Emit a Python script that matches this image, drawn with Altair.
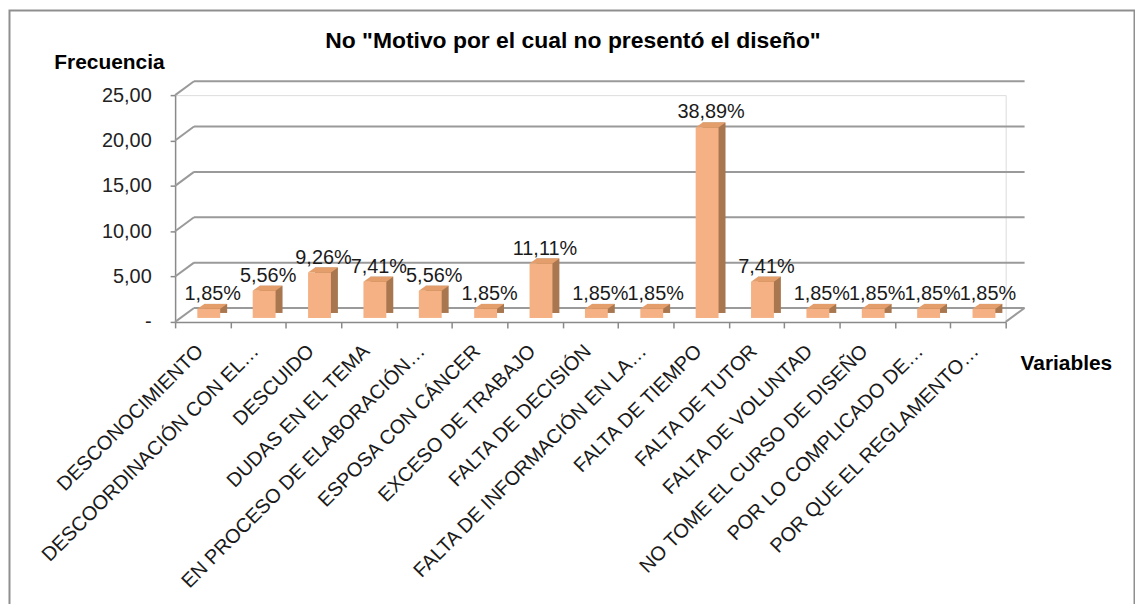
import altair as alt
import pandas as pd

categories = [
    "DESCONOCIMIENTO", "DESCOORDINACIÓN CON EL…", "DESCUIDO", "DUDAS EN EL TEMA",
    "EN PROCESO DE ELABORACIÓN…", "ESPOSA CON CÁNCER", "EXCESO DE TRABAJO",
    "FALTA DE DECISIÓN", "FALTA DE INFORMACIÓN EN LA…", "FALTA DE TIEMPO",
    "FALTA DE TUTOR", "FALTA DE VOLUNTAD", "NO TOME EL CURSO DE DISEÑO",
    "POR LO COMPLICADO DE…", "POR QUE EL REGLAMENTO…",
]
frecuencia = [1, 3, 5, 4, 3, 1, 6, 1, 1, 21, 4, 1, 1, 1, 1]
porcentaje = ["1,85%", "5,56%", "9,26%", "7,41%", "5,56%", "1,85%", "11,11%", "1,85%",
              "1,85%", "38,89%", "7,41%", "1,85%", "1,85%", "1,85%", "1,85%"]
y_ticks = [0, 5, 10, 15, 20, 25]

title_text = 'No "Motivo por el cual no presentó el diseño"'
y_title = "Frecuencia"
x_title = "Variables"

W, H = 835, 228
DX, DY = 19, -14
FONT = "Liberation Sans"
GRID = "#9a9a9a"

df = pd.DataFrame({"cat": categories, "val": frecuencia, "pct": porcentaje})
ticks_df = pd.DataFrame({"yv": y_ticks})
zero_df = pd.DataFrame({"yv": [y_ticks[0]]})
one = pd.DataFrame({"a": [0]})

yscale = alt.Scale(domain=[0, 25], nice=False)
xenc = alt.X(
    "cat:N", sort=categories,
    scale=alt.Scale(paddingInner=0, paddingOuter=0),
    axis=alt.Axis(
        title=None, labelAngle=-45, labelAlign="right", labelBaseline="middle",
        labelFontSize=20, labelFont=FONT, labelColor="#1a1a1a", labelPadding=20,
        labelOffset=-3, labelLimit=0, labelOverlap=False, tickBand="extent",
        tickSize=6, tickColor="#8a8a8a", tickWidth=1.5,
        domainColor="#8a8a8a", domainWidth=1.5,
    ),
)


def yaxis():
    return alt.Axis(
        title=None, values=y_ticks, grid=False,
        labelExpr="datum.value == 0 ? '-\u00a0\u00a0' : replace(format(datum.value, '.2f'), '.', ',')",
        labelFontSize=20, labelFont=FONT, labelColor="#222222", labelPadding=19,
        tickSize=5, tickColor="#8a8a8a", tickWidth=1.5,
        domainColor="#8a8a8a", domainWidth=1.5,
    )


yenc = alt.Y("val:Q", scale=yscale, axis=yaxis())
yv = alt.Y("yv:Q", scale=yscale, axis=yaxis())

border = alt.Chart(one).mark_rect(fillOpacity=0, stroke="#8f8f8f", strokeWidth=2).encode(
    x=alt.value(-166.5), x2=alt.value(964.5), y=alt.value(-85), y2=alt.value(620)
)

grid = alt.Chart(ticks_df).mark_rule(color=GRID, strokeWidth=2, yOffset=DY).encode(
    x=alt.value(DX), x2=alt.value(W + DX), y=yv
)
diag = alt.Chart(ticks_df).mark_rule(color=GRID, strokeWidth=2, y2Offset=DY).encode(
    x=alt.value(0), x2=alt.value(DX), y=yv, y2="yv:Q"
)
diag_r = alt.Chart(zero_df).mark_rule(color=GRID, strokeWidth=2, y2Offset=DY).encode(
    x=alt.value(W), x2=alt.value(W + DX), y=yv, y2="yv:Q"
)

side = alt.Chart(df).mark_bar(width=23, xOffset=13, yOffset=-9, y2Offset=-9,
                              color="#A8774F").encode(x=xenc, y=yenc)
front = alt.Chart(df).mark_bar(width=23, xOffset=6, yOffset=-4, y2Offset=-4,
                               color="#F5B183").encode(x=xenc, y=yenc)
top = alt.Chart(df).mark_point(
    shape="M-11.5,0L11.5,0L18.5,-5L-4.5,-5Z", size=4, filled=True, opacity=1,
    fill="#E49E6B", strokeWidth=0, xOffset=6, yOffset=-4,
).encode(x=xenc, y=yenc)
labels = alt.Chart(df).mark_text(
    fontSize=20, font=FONT, baseline="alphabetic", align="center",
    xOffset=10, yOffset=-13, color="#1a1a1a",
).encode(x=xenc, y=yenc, text="pct:N")


def txt(t, x, y, size):
    return alt.Chart(one).mark_text(
        text=t, fontSize=size, font=FONT, fontWeight="bold", align="center",
        baseline="alphabetic", color="#000000",
    ).encode(x=alt.value(x), y=alt.value(y))


chart = alt.layer(
    border, grid, diag, diag_r, side, front, top, labels,
    txt(title_text, 400, -47, 23),
    txt(y_title, -66, -26, 21),
    txt(x_title, 896, 276, 21),
).properties(
    width=W, height=H,
    padding={"left": 168, "top": 86, "right": 130, "bottom": 282},
    autosize=alt.AutoSizeParams(type="none"),
).configure_view(stroke=None).configure(font=FONT)

chart.save("out.html", embed_options={"renderer": "svg", "actions": False})
